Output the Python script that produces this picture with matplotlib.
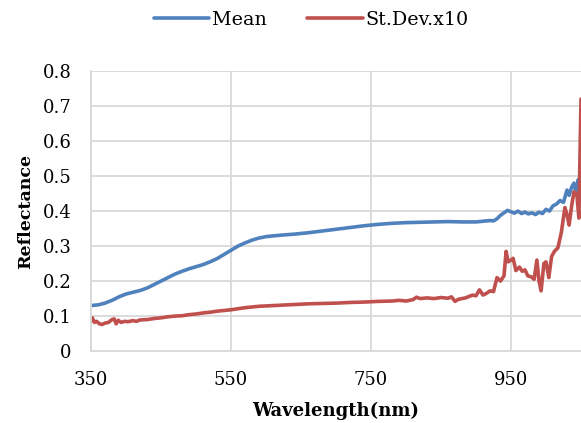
import matplotlib
matplotlib.use("Agg")
import matplotlib.pyplot as plt

plt.rcParams['font.family'] = ['DejaVu Serif']

# spectral reflectance, mean and 10x standard deviation
mean_wl = [350, 360, 370, 380, 390, 400, 410, 420, 430, 440, 450, 460, 470, 480, 490,
           500, 510, 520, 530, 540, 550, 560, 570, 580, 590, 600, 620, 640, 660, 680,
           700, 720, 740, 760, 780, 800, 820, 840, 860, 880, 900, 910, 920, 925, 930,
           935, 940, 945, 950, 955, 960, 965, 970, 975, 980, 985, 990, 995, 1000, 1005,
           1010, 1015, 1020, 1025, 1030, 1033, 1037, 1040, 1043, 1046, 1048, 1050]
mean_val = [0.130, 0.132, 0.137, 0.145, 0.155, 0.163, 0.168, 0.173, 0.180, 0.190, 0.200,
            0.210, 0.220, 0.228, 0.235, 0.241, 0.247, 0.255, 0.264, 0.276, 0.288, 0.300,
            0.309, 0.317, 0.323, 0.327, 0.331, 0.334, 0.338, 0.343, 0.348, 0.353, 0.358,
            0.362, 0.365, 0.367, 0.368, 0.369, 0.370, 0.369, 0.369, 0.371, 0.373, 0.372,
            0.378, 0.388, 0.395, 0.402, 0.398, 0.394, 0.400, 0.393, 0.397, 0.392, 0.395,
            0.390, 0.397, 0.393, 0.405, 0.400, 0.415, 0.420, 0.430, 0.425, 0.460, 0.445,
            0.470, 0.480, 0.450, 0.490, 0.470, 0.500]

sd_wl = [350, 352, 355, 358, 362, 366, 370, 375, 380, 383, 386, 389, 393, 398, 403, 410,
         415, 420, 430, 440, 450, 460, 470, 480, 490, 500, 510, 520, 530, 540, 550, 560,
         570, 580, 590, 600, 620, 640, 660, 680, 700, 720, 740, 760, 780, 790, 800, 810,
         815, 820, 830, 840, 850, 860, 865, 870, 875, 885, 895, 900, 905, 910, 915, 920,
         925, 930, 935, 940, 943, 946, 950, 953, 957, 962, 966, 970, 974, 979, 983, 987,
         990, 993, 997, 1000, 1004, 1008, 1012, 1017, 1022, 1027, 1030, 1033, 1037, 1040,
         1044, 1047, 1050]
sd_val = [0.085, 0.095, 0.082, 0.085, 0.078, 0.076, 0.080, 0.082, 0.090, 0.092, 0.078,
          0.088, 0.082, 0.085, 0.084, 0.087, 0.085, 0.089, 0.090, 0.093, 0.095, 0.098,
          0.100, 0.101, 0.104, 0.106, 0.109, 0.111, 0.114, 0.116, 0.118, 0.121, 0.124,
          0.126, 0.128, 0.129, 0.131, 0.133, 0.135, 0.136, 0.137, 0.139, 0.140, 0.142,
          0.143, 0.145, 0.143, 0.147, 0.154, 0.150, 0.152, 0.150, 0.153, 0.151, 0.155,
          0.142, 0.148, 0.152, 0.160, 0.158, 0.175, 0.160, 0.165, 0.172, 0.170, 0.210,
          0.200, 0.215, 0.285, 0.255, 0.260, 0.265, 0.230, 0.240, 0.228, 0.232, 0.215,
          0.212, 0.205, 0.260, 0.200, 0.172, 0.250, 0.255, 0.210, 0.270, 0.285, 0.295,
          0.340, 0.410, 0.390, 0.360, 0.420, 0.455, 0.450, 0.380, 0.720]

x_ticks = [350, 550, 750, 950]
y_ticks = [0, 0.1, 0.2, 0.3, 0.4, 0.5, 0.6, 0.7, 0.8]
y_labels = ['0', '0.1', '0.2', '0.3', '0.4', '0.5', '0.6', '0.7', '0.8']

fig = plt.figure(figsize=(5.81, 4.23), dpi=100)
ax = fig.add_axes([0.1566, 0.170, 0.8434, 0.662])

ax.plot(mean_wl, mean_val, color='#4F81BD', lw=2.6, label='Mean', solid_capstyle='round')
ax.plot(sd_wl, sd_val, color='#C0504D', lw=2.6, label='St.Dev.x10', solid_capstyle='round')

ax.set_xlim(350, 1050)
ax.set_ylim(0, 0.8)
ax.set_xticks(x_ticks)
ax.set_yticks(y_ticks)
ax.set_yticklabels(y_labels)
ax.tick_params(length=0, labelsize=13, pad=14)
ax.grid(True, color='#d9d9d9', lw=1.3)
ax.set_axisbelow(True)
for s in ['top', 'right']:
    ax.spines[s].set_visible(False)
for s in ['left', 'bottom']:
    ax.spines[s].set_color('#d9d9d9')
    ax.spines[s].set_linewidth(1.3)

ax.set_xlabel('Wavelength(nm)', fontsize=13, fontweight='bold')
ax.xaxis.set_label_coords(0.5, -0.18)
ax.set_ylabel('Reflectance', fontsize=12.5, fontweight='bold', labelpad=6)

fig.legend(loc='center', bbox_to_anchor=(0.536, 0.953), ncol=2, frameon=False,
           fontsize=13.8, handlelength=2.9, columnspacing=2.1, handletextpad=0.15)

fig.savefig('out.png', dpi=100)
